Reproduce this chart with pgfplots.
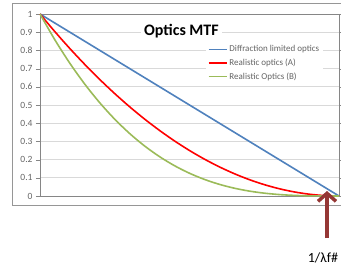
\documentclass[border=0pt]{standalone}
\usepackage{fontspec}
\setmainfont{Carlito}
\usepackage{pgfplots}
\pgfplotsset{compat=1.18}
\usetikzlibrary{arrows.meta}
\definecolor{xlblue}{RGB}{79,129,189}
\definecolor{xlred}{RGB}{255,0,0}
\definecolor{xlgreen}{RGB}{155,187,89}
\definecolor{arrowred}{RGB}{149,55,53}
\definecolor{ticktext}{RGB}{100,100,100}
\begin{document}
\begin{tikzpicture}
\useasboundingbox (0,0) rectangle (341pt,274pt);
\draw[color={rgb,255:red,150;green,150;blue,150}, line width=1pt] (12.5pt,69pt) rectangle (345pt,271pt);
\begin{axis}[
  at={(40pt,78pt)}, anchor=south west,
  scale only axis, width=299pt, height=182pt,
  xmin=0, xmax=1, ymin=0, ymax=1,
  xtick=\empty,
  ytick={0,0.1,0.2,0.3,0.4,0.5,0.6,0.7,0.8,0.9,1},
  yticklabels={0,0.1,0.2,0.3,0.4,0.5,0.6,0.7,0.8,0.9,1},
  ymajorgrids, grid style={color={rgb,255:red,217;green,217;blue,217}, line width=0.8pt},
  axis line style={color={rgb,255:red,134;green,134;blue,134}, line width=0.8pt},
  tick align=outside, major tick length=4pt,
  tick style={color={rgb,255:red,134;green,134;blue,134}},
  tick label style={font=\fontsize{9.5}{11}\selectfont, text=ticktext},
  /pgf/number format/assume math mode=true,
  legend style={at={(rel axis cs:0.554,0.855)}, anchor=north west, fill=white, draw=none,
    font=\fontsize{9}{10}\selectfont, text=ticktext, row sep=1.5pt, inner xsep=2pt, inner ysep=3pt},
  legend cell align=left,
  legend image code/.code={\draw[#1] (0pt,0pt) -- (18pt,0pt);},
  clip=false,
]
\addplot[xlblue, line width=1.6pt] coordinates {(0,1) (1,0)};
\addlegendentry{Diffraction limited optics}
\addplot[xlred, line width=1.6pt, smooth] coordinates {
(0,1) (0.05,0.9025) (0.1,0.81) (0.15,0.7225) (0.2,0.64) (0.25,0.5625) (0.3,0.49)
(0.35,0.4225) (0.4,0.36) (0.45,0.3025) (0.5,0.25) (0.55,0.2025) (0.6,0.16)
(0.65,0.1225) (0.7,0.09) (0.75,0.0625) (0.8,0.04) (0.85,0.0225) (0.9,0.01)
(0.95,0.0025) (1,0)};
\addlegendentry{Realistic optics (A)}
\addplot[xlgreen, line width=1.6pt, smooth] coordinates {
(0,1) (0.05,0.857375) (0.1,0.729) (0.15,0.614125) (0.2,0.512) (0.25,0.421875)
(0.3,0.343) (0.35,0.274625) (0.4,0.216) (0.45,0.166375) (0.5,0.125) (0.55,0.091125)
(0.6,0.064) (0.65,0.042875) (0.7,0.027) (0.75,0.015625) (0.8,0.008) (0.85,0.003375)
(0.9,0.001) (0.95,0.000125) (1,0)};
\addlegendentry{Realistic Optics (B)}
\node[fill=white, inner xsep=3pt, inner ysep=1pt, font=\bfseries\fontsize{16}{18}\selectfont] at (rel axis cs:0.473,0.905) {Optics MTF};
\end{axis}
\draw[arrowred, line width=3.5pt, -{Straight Barb[length=8pt, width=18pt]}] (327pt,36pt) -- (327pt,83pt);
\node[font=\fontsize{14}{16}\selectfont] at (323pt,16pt) {1/λf\#};
\end{tikzpicture}
\end{document}
